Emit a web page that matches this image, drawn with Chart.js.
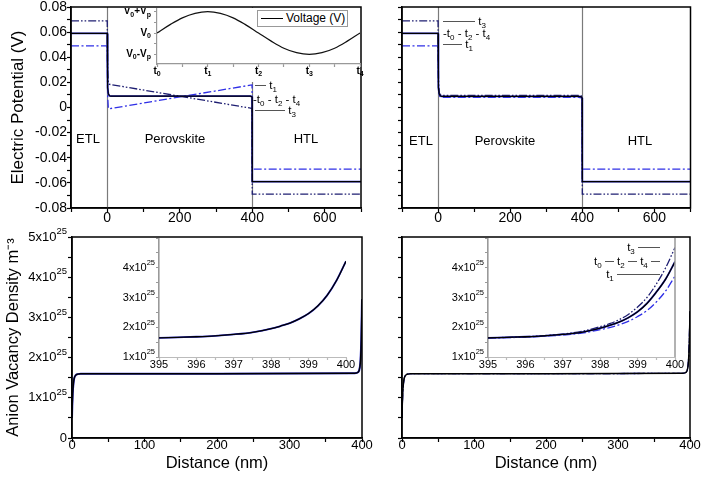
<!DOCTYPE html>
<html>
<head>
<meta charset="utf-8">
<script src="https://cdn.jsdelivr.net/npm/chart.js@4.4.0/dist/chart.umd.min.js"></script>
<style>
  body { margin: 0; background: #fff; }
  #wrap { position: relative; width: 703px; height: 484px; overflow: hidden; font-family: "Liberation Sans", Arial, sans-serif; color: #000; }
  canvas { position: absolute; }
  .lbl { position: absolute; transform: translate(-50%, -50%); font-size: 13px; white-space: nowrap; }
  .leg { position: absolute; font-size: 11.5px; line-height: 12px; white-space: nowrap; transform: translateY(-50%); }
  .leg sub { font-size: 8px; vertical-align: -3px; line-height: 0; }
  .sw { display: inline-block; height: 0; border-top: 1px solid #555; vertical-align: middle; }
</style>
</head>
<body>
<div id="wrap">
  <canvas id="tl" width="372" height="232" style="left:0;top:0"></canvas>
  <canvas id="tr" width="331" height="232" style="left:372px;top:0"></canvas>
  <canvas id="bl" width="380" height="262" style="left:0;top:222px"></canvas>
  <canvas id="br" width="331" height="252" style="left:372px;top:232px"></canvas>
  <canvas id="tli" width="256" height="74" style="left:110px;top:8px"></canvas>
  <canvas id="bli" width="245" height="133" style="left:112px;top:238px"></canvas>
  <canvas id="bri" width="245" height="133" style="left:442px;top:238px"></canvas>

  <div class="lbl" style="left:88px;top:138px">ETL</div>
  <div class="lbl" style="left:175px;top:138px">Perovskite</div>
  <div class="lbl" style="left:306px;top:138px">HTL</div>
  <div class="lbl" style="left:421px;top:140px">ETL</div>
  <div class="lbl" style="left:505px;top:140px">Perovskite</div>
  <div class="lbl" style="left:640px;top:140px">HTL</div>

  <div style="position:absolute;left:257px;top:10px;width:91px;height:17px;border:1px solid #999;box-sizing:border-box;font-size:12px;line-height:15px;background:#fff;white-space:nowrap">
    <span class="sw" style="width:22px;margin:0 3px;border-color:#000"></span>Voltage (V)
  </div>

  <div class="leg" style="left:255px;top:85px"><span class="sw" style="width:11px"></span>&nbsp;t<sub>1</sub></div>
  <div class="leg" style="left:253px;top:99px">-t<sub>0</sub>&nbsp;-&nbsp;t<sub>2</sub>&nbsp;-&nbsp;t<sub>4</sub></div>
  <div class="leg" style="left:255px;top:110px"><span class="sw" style="width:30px"></span>&nbsp;t<sub>3</sub></div>

  <div class="leg" style="left:443px;top:21px"><span class="sw" style="width:32px"></span>&nbsp;t<sub>3</sub></div>
  <div class="leg" style="left:443px;top:33px">-t<sub>0</sub>&nbsp;-&nbsp;t<sub>2</sub>&nbsp;-&nbsp;t<sub>4</sub></div>
  <div class="leg" style="left:443px;top:44px"><span class="sw" style="width:19px"></span>&nbsp;t<sub>1</sub></div>

  <div class="leg" style="right:43px;top:247px">t<sub>3</sub>&nbsp;<span class="sw" style="width:22px"></span></div>
  <div class="leg" style="right:43px;top:261px">t<sub>0</sub>&nbsp;<span class="sw" style="width:9px"></span>&nbsp;t<sub>2</sub>&nbsp;<span class="sw" style="width:9px"></span>&nbsp;t<sub>4</sub>&nbsp;<span class="sw" style="width:9px"></span></div>
  <div class="leg" style="right:43px;top:274px">t<sub>1</sub>&nbsp;<span class="sw" style="width:43px"></span></div>
</div>

<script>
// electric potential (V) vs distance (nm), top row
const tlX = [-100, 0, 0.5, 1.5, 3, 6, 10, 395, 399.5, 400, 700];
const tlSolid = [0.059, 0.059, 0.035, 0.016, 0.011, 0.0093, 0.009, 0.009, 0.0085, -0.059, -0.059];
const tlEdgeX = [-100, 0, 1, 3, 5, 395, 399.5, 400, 700];
const tlT3 = [0.069, 0.069, 0.03, 0.02, 0.0185, -0.0005, -0.001, -0.069, -0.069];
const tlT1 = [0.049, 0.049, 0.01, -0.0005, -0.001, 0.0178, 0.018, -0.049, -0.049];

const trX = [-100, 0, 0.5, 1.5, 3, 6, 10, 390, 397, 399.5, 400, 700];
const trSolid = [0.059, 0.059, 0.035, 0.016, 0.011, 0.0093, 0.0088, 0.0088, 0.0085, 0.0076, -0.059, -0.059];
const trT3 = [0.069, 0.069, 0.04, 0.018, 0.012, 0.0102, 0.0097, 0.0097, 0.0093, 0.0083, -0.069, -0.069];
const trT1 = [0.049, 0.049, 0.03, 0.014, 0.0098, 0.0085, 0.008, 0.008, 0.0077, 0.0068, -0.049, -0.049];
const layerEdges = [0, 400];

// applied voltage over one period (inset)
const phaseT = [0, 0.25, 0.5, 0.75, 1, 1.25, 1.5, 1.75, 2, 2.25, 2.5, 2.75, 3, 3.25, 3.5, 3.75, 4];
const voltage = [0, 0.38, 0.71, 0.92, 1, 0.92, 0.71, 0.38, 0, -0.38, -0.71, -0.92, -1, -0.92, -0.71, -0.38, 0];
const timeSubs = ['0', '1', '2', '3', '4'];
const voltLevels = [1, 0, -1];
const voltNames = [['V', '0', '+V', 'p'], ['V', '0'], ['V', '0', '-V', 'p']];

// anion vacancy density (x10^25 m^-3), bottom row
const distX = [0, 0.5, 1, 2, 3, 5, 8, 12, 20, 200, 390, 395, 397, 398, 399, 400];
const densLeft = [0.5, 0.85, 1.1, 1.35, 1.48, 1.56, 1.59, 1.6, 1.6, 1.6, 1.61, 1.64, 1.76, 1.95, 2.46, 3.45];
const densRight = [0.5, 0.85, 1.1, 1.35, 1.48, 1.56, 1.59, 1.6, 1.6, 1.6, 1.61, 1.64, 1.76, 1.95, 2.4, 3.15];

const zoomX = [395, 395.5, 396, 396.5, 397, 397.5, 398, 398.25, 398.5, 398.75, 399, 399.25, 399.5, 399.75, 400];
const zoomLeft = [1.64, 1.66, 1.68, 1.71, 1.76, 1.83, 1.95, 2.04, 2.14, 2.28, 2.46, 2.72, 3.08, 3.58, 4.22];
const zoomT0 = [1.64, 1.66, 1.68, 1.71, 1.76, 1.83, 1.97, 2.06, 2.17, 2.32, 2.52, 2.8, 3.18, 3.62, 4.2];
const zoomT3 = [1.64, 1.66, 1.68, 1.72, 1.77, 1.86, 2.02, 2.12, 2.25, 2.43, 2.68, 3.0, 3.45, 4.0, 4.68];
const zoomT1 = [1.64, 1.65, 1.67, 1.70, 1.74, 1.80, 1.92, 1.99, 2.08, 2.2, 2.36, 2.56, 2.85, 3.22, 3.72];
const densTicks = [0, 1, 2, 3, 4, 5];
const zoomDensTicks = [1, 2, 3, 4];
const densExp = '25';

const F = '"Liberation Sans", Arial, sans-serif';
Chart.defaults.font.family = F;
Chart.defaults.color = '#000';

const BLACK = '#000', BLUE = '#2f2fe6', NAVY = '#1e1e72', BLUE2 = '#2a2acf', GRAY = '#999';
const DASHDOT = [8, 2.5, 2, 2.5], DASHDOTDOT = [8, 2, 1.6, 2, 1.6, 2];

function richText(ctx, parts, x, y, align) {
  let total = 0;
  const items = parts.map(p => {
    ctx.font = (p.b ? 'bold ' : '') + p.s + 'px ' + F;
    const w = ctx.measureText(p.t).width;
    total += w;
    return Object.assign({ w: w }, p);
  });
  let cx = align === 'right' ? x - total : align === 'center' ? x - total / 2 : x;
  ctx.textAlign = 'left';
  ctx.textBaseline = 'middle';
  ctx.fillStyle = '#000';
  items.forEach(p => {
    ctx.font = (p.b ? 'bold ' : '') + p.s + 'px ' + F;
    ctx.fillText(p.t, cx, y + (p.dy || 0));
    cx += p.w;
  });
}

function sci(v, size, sup) {
  if (v === 0) return [{ t: '0', s: size }];
  return [{ t: v + 'x10', s: size }, { t: densExp, s: sup, dy: -size * 0.42 }];
}

const decoPlugin = {
  id: 'deco',
  beforeDraw(chart, args, o) {
    if (o.fill) {
      chart.ctx.save();
      chart.ctx.fillStyle = '#fff';
      chart.ctx.fillRect(0, 0, chart.chartArea.right, chart.height);
      chart.ctx.restore();
    }
  },
  beforeDatasetsDraw(chart, args, o) {
    const ctx = chart.ctx, a = chart.chartArea;
    ctx.save();
    ctx.strokeStyle = '#7a7a7a';
    ctx.lineWidth = 1.2;
    (o.edges || []).forEach(v => {
      const x = Math.round(chart.scales.x.getPixelForValue(v)) + 0.5;
      ctx.beginPath(); ctx.moveTo(x, a.top); ctx.lineTo(x, a.bottom); ctx.stroke();
    });
    ctx.restore();
  },
  afterDraw(chart, args, o) {
    const ctx = chart.ctx, a = chart.chartArea;
    ctx.save();
    if (o.box) {
      ctx.strokeStyle = '#000';
      ctx.lineWidth = 1.5;
      ctx.strokeRect(a.left, a.top, a.right - a.left, a.bottom - a.top);
    }
    if (o.rightEdge) {
      ctx.strokeStyle = o.rightEdge;
      ctx.lineWidth = 1.5;
      ctx.beginPath(); ctx.moveTo(a.right, a.top); ctx.lineTo(a.right, a.bottom); ctx.stroke();
    }
    (o.ylabels || []).forEach(l => richText(ctx, l.parts, a.left - o.ygap, chart.scales.y.getPixelForValue(l.v), 'right'));
    (o.xlabels || []).forEach(l => richText(ctx, l.parts, chart.scales.x.getPixelForValue(l.v), a.bottom + o.xgap, 'center'));
    ctx.restore();
  }
};

function line(xs, ys, color, dash, width, smooth) {
  return {
    data: xs.map((x, i) => ({ x: x, y: ys[i] })),
    borderColor: color,
    borderDash: dash || [],
    borderWidth: width || 1.3,
    pointRadius: 0,
    fill: false,
    cubicInterpolationMode: smooth ? 'monotone' : 'default',
    tension: 0
  };
}

function axis(min, max, step, o) {
  return {
    type: 'linear', min: min, max: max,
    ticks: {
      stepSize: step, autoSkip: false, maxRotation: 0, minRotation: 0,
      includeBounds: o.bounds !== false,
      display: !!o.cb, callback: o.cb, padding: o.pad || 0,
      font: { size: o.size || 14, lineHeight: 1 }, color: '#000'
    },
    grid: { display: true, drawOnChartArea: false, drawTicks: true, tickLength: o.tl || 4, tickWidth: 1.2, tickColor: o.color || '#000' },
    border: { display: true, color: o.color || '#000', width: o.bw || 1.5 },
    title: o.title ? { display: true, text: o.title, color: '#000', font: { size: o.tsize || 17, lineHeight: 1.2 }, padding: o.tpad } : { display: false },
    afterFit(s) { if (s.isHorizontal()) s.height = o.fit; else s.width = o.fit; }
  };
}

function makeChart(id, datasets, xs, ys, padding, deco) {
  return new Chart(document.getElementById(id), {
    type: 'line',
    data: { datasets: datasets },
    options: {
      responsive: false, animation: false, devicePixelRatio: 1,
      layout: { padding: padding },
      scales: { x: xs, y: ys },
      plugins: { legend: { display: false }, tooltip: { enabled: false }, deco: deco }
    },
    plugins: [decoPlugin]
  });
}

const potLabel = v => (Math.abs(Math.round(v * 100)) % 2 === 0) ? (Math.abs(v) < 1e-9 ? '0' : v.toFixed(2)) : '';
const distLabelTop = v => (v >= 0 && v <= 600 && v % 200 === 0) ? String(v) : '';
const distLabelBottom = v => (v % 100 === 0) ? String(v) : '';
const zoomLabel = v => Number.isInteger(v) ? String(v) : '';

// top left: potential with the linear drop across the perovskite
makeChart('tl', [
  line(tlX, tlSolid, BLACK, [], 1.2),
  line(tlEdgeX, tlT3, NAVY, DASHDOTDOT, 1.3),
  line(tlEdgeX, tlT1, BLUE, DASHDOT, 1.3),
  line(tlX, tlSolid, BLUE2, [], 1.8)
],
  axis(-100, 700, 100, { cb: distLabelTop, fit: 24, pad: -1 }),
  axis(-0.08, 0.08, 0.01, { cb: potLabel, fit: 71, title: 'Electric Potential (V)', tsize: 17, tpad: { top: 8, bottom: 0 } }),
  { left: 0, top: 7, right: 11, bottom: 0 },
  { box: true, edges: layerEdges });

// top right: potential when the field is screened
makeChart('tr', [
  line(trX, trSolid, BLACK, [], 1.2),
  line(trX, trT3, NAVY, DASHDOTDOT, 1.3),
  line(trX, trT1, BLUE, DASHDOT, 1.3),
  line(trX, trSolid, BLUE2, [], 1.8)
],
  axis(-100, 700, 100, { cb: distLabelTop, fit: 24, pad: -1 }),
  axis(-0.08, 0.08, 0.01, { cb: () => '', fit: 30 }),
  { left: 0, top: 7, right: 12.5, bottom: 0 },
  { box: true, edges: layerEdges });

// bottom left: vacancy density
makeChart('bl', [
  line(distX, densLeft, BLACK, [], 1.4, true),
  line(distX, densLeft, BLUE2, [], 2, true)
],
  axis(0, 400, 50, { cb: distLabelBottom, fit: 46, pad: -3, size: 13, title: 'Distance (nm)', tsize: 16.5, tpad: { top: 0, bottom: 11 } }),
  axis(0, 5, 0.5, { fit: 72, title: 'Anion Vacancy Density m\u207B\u00B3', tsize: 16.5, tpad: { top: 4, bottom: 0 } }),
  { left: 0, top: 15, right: 18, bottom: 0 },
  { box: true, ylabels: densTicks.map(v => ({ v: v, parts: sci(v, 13, 9.5) })), ygap: 5 });

// bottom right
makeChart('br', [
  line(distX, densRight, BLACK, [], 1.4, true),
  line(distX, densRight, NAVY, DASHDOTDOT, 1.3, true),
  line(distX, densRight, BLUE, DASHDOT, 1.3, true)
],
  axis(0, 400, 50, { cb: distLabelBottom, fit: 46, pad: -3, size: 13, title: 'Distance (nm)', tsize: 16.5, tpad: { top: 0, bottom: 11 } }),
  axis(0, 5, 0.5, { fit: 30 }),
  { left: 0, top: 5, right: 13, bottom: 0 },
  { box: true });

// inset: applied sinusoidal voltage
makeChart('tli', [
  Object.assign(line(phaseT, voltage, '#111', [], 1.2), { tension: 0.35 })
],
  axis(0, 4, 0.5, { fit: 18, tl: 3, color: GRAY, bw: 1.2 }),
  axis(-1.45, 1.17, 0.5, { fit: 47, tl: 3, color: GRAY, bw: 1.2, bounds: false }),
  { left: 0, top: 0, right: 6, bottom: 0 },
  {
    fill: true, ygap: 6, xgap: 7,
    xlabels: timeSubs.map((s, i) => ({ v: i, parts: [{ t: 't', s: 10, b: 1 }, { t: s, s: 7, dy: 3, b: 1 }] })),
    ylabels: voltLevels.map((v, i) => ({ v: v, parts: voltNames[i].map((t, k) => k % 2 ? { t: t, s: 7, dy: 3, b: 1 } : { t: t, s: 10, b: 1 }) }))
  });

// inset: density close to the HTL interface (left)
makeChart('bli', [
  line(zoomX, zoomLeft, BLACK, [], 1.3, true),
  line(zoomX, zoomLeft, BLUE2, [], 1.8, true)
],
  axis(395, 400, 0.5, { cb: zoomLabel, fit: 14, tl: 3, pad: -1, size: 11, color: '#bbb', bw: 1 }),
  axis(1, 5, 0.5, { fit: 47, tl: 3, color: GRAY, bw: 1.6 }),
  { left: 0, top: 0, right: 11, bottom: 0 },
  { fill: true, ygap: 4, ylabels: zoomDensTicks.map(v => ({ v: v, parts: sci(v, 11, 7.5) })) });

// inset: density close to the HTL interface (right)
makeChart('bri', [
  line(zoomX, zoomT0, BLACK, [], 1.3, true),
  line(zoomX, zoomT3, NAVY, DASHDOTDOT, 1.3, true),
  line(zoomX, zoomT1, BLUE, DASHDOT, 1.3, true),
  line(zoomX, zoomT0, BLUE2, [], 1.8, true)
],
  axis(395, 400, 0.5, { cb: zoomLabel, fit: 14, tl: 3, pad: -1, size: 11, color: '#bbb', bw: 1 }),
  axis(1, 5, 0.5, { fit: 46, tl: 3, color: GRAY, bw: 1.6 }),
  { left: 0, top: 0, right: 12, bottom: 0 },
  { fill: true, ygap: 4, rightEdge: GRAY, ylabels: zoomDensTicks.map(v => ({ v: v, parts: sci(v, 11, 7.5) })) });
</script>
</body>
</html>
